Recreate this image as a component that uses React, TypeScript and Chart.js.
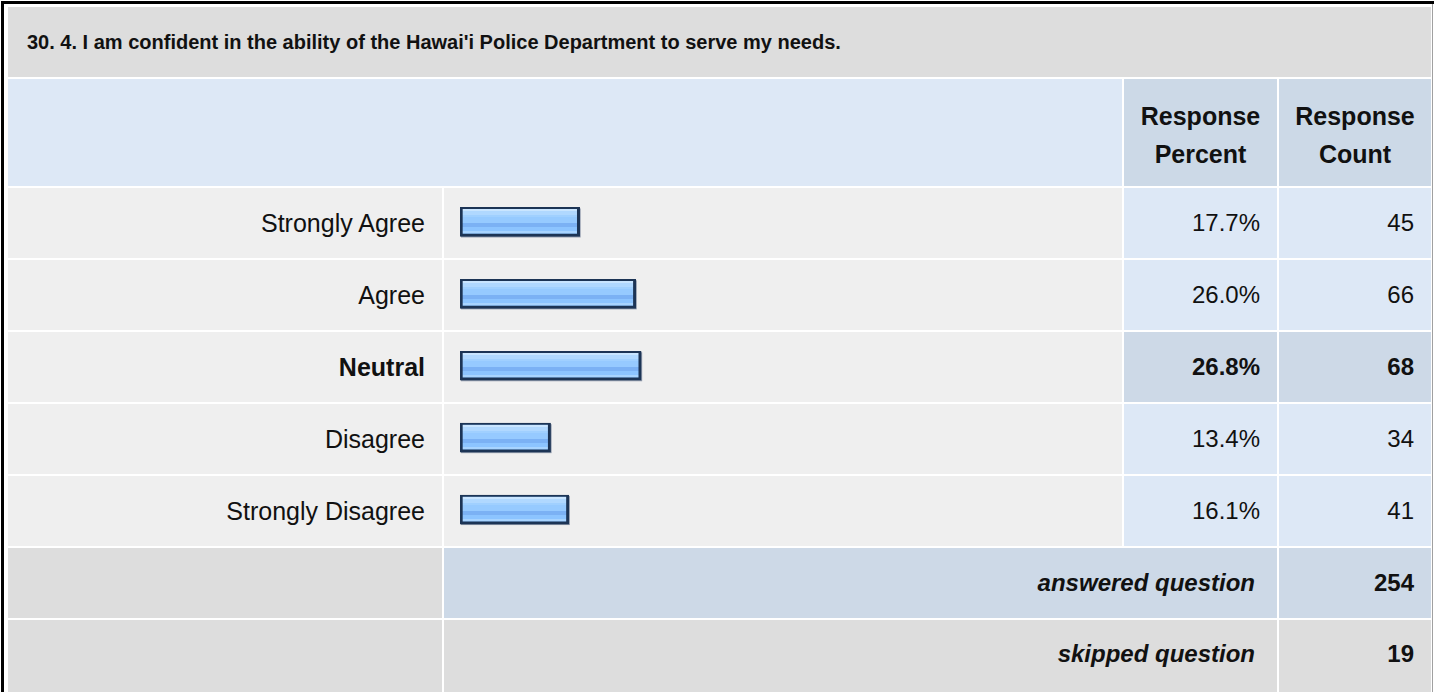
import React, { useEffect, useRef } from "react";
import { Chart, registerables } from "chart.js";

Chart.register(...registerables);

const title = "30. 4. I am confident in the ability of the Hawai'i Police Department to serve my needs.";
const categories = ["Strongly Agree", "Agree", "Neutral", "Disagree", "Strongly Disagree"];
const percents = [17.7, 26.0, 26.8, 13.4, 16.1];
const counts = [45, 66, 68, 34, 41];
const highlighted = [false, false, true, false, false];
const headerLabels = ["Response Percent", "Response Count"];
const answeredLabel = "answered question";
const skippedLabel = "skipped question";
const answeredCount = 254;
const skippedCount = 19;

const FONT = '"Liberation Sans", Arial, Helvetica, sans-serif';
const TEXT = "#111";

// geometry
const COL = { labelX: 8, barX: 444, pctX: 1124, cntX: 1279, right: 1431 };
const ROW0 = 188;
const STEP = 72;
const RH = 70;

function Cell(props: {
  x: number; y: number; w: number; h: number; bg: string;
  children?: React.ReactNode; style?: React.CSSProperties;
}) {
  const { x, y, w, h, bg, children, style } = props;
  return (
    <div
      style={{
        position: "absolute", left: x, top: y, width: w, height: h, background: bg,
        display: "flex", alignItems: "center", boxSizing: "border-box",
        fontFamily: FONT, fontSize: 24, color: TEXT, whiteSpace: "nowrap",
        ...style,
      }}
    >
      {children}
    </div>
  );
}

const stripes: [number, number, string][] = [
  [0, 72, "#96caff"],
  [23, 25, "#c9e5ff"],
  [25, 29, "#b0d8ff"],
  [29, 31, "#a0d0ff"],
  [31, 37, "#96caff"],
  [37, 41, "#7bb1f4"],
  [41, 45, "#8cc4ff"],
  [45, 47, "#a8d4ff"],
];

export default function App() {
  const canvasRef = useRef<HTMLCanvasElement | null>(null);

  useEffect(() => {
    const canvas = canvasRef.current!;
    const pc = document.createElement("canvas");
    pc.width = 1;
    pc.height = 72;
    const g = pc.getContext("2d")!;
    stripes.forEach(([a, b, c]) => {
      g.fillStyle = c;
      g.fillRect(0, a, 1, b - a);
    });
    const pattern = canvas.getContext("2d")!.createPattern(pc, "repeat")!;

    const shadowPlugin = {
      id: "barShadow",
      beforeDatasetsDraw(chart: any) {
        const c = chart.ctx;
        const meta = chart.getDatasetMeta(0);
        c.save();
        c.fillStyle = "#8e98aa";
        meta.data.forEach((el: any) => {
          const p = el.getProps(["x", "y", "base", "height"], true);
          const l = Math.min(p.base, p.x);
          const r = Math.max(p.base, p.x);
          c.fillRect(l + 1, p.y - p.height / 2 + 1, r - l, p.height);
        });
        c.restore();
      },
    };

    const chart = new Chart(canvas, {
      type: "bar",
      data: {
        labels: categories,
        datasets: [
          {
            data: percents,
            backgroundColor: pattern as any,
            borderColor: "#1c3455",
            borderWidth: { top: 2, left: 3, right: 3, bottom: 3 } as any,
            borderSkipped: false,
            barThickness: 29,
          },
        ],
      },
      options: {
        indexAxis: "y",
        animation: false,
        responsive: false,
        events: [],
        layout: { padding: { left: 16, right: 0, top: -0.5, bottom: 0.5 } },
        scales: {
          x: { display: false, min: 0, max: 100 },
          y: { display: false },
        },
        plugins: { legend: { display: false }, tooltip: { enabled: false } },
      },
      plugins: [shadowPlugin],
    });
    return () => chart.destroy();
  }, []);

  const rows = categories.map((cat, i) => {
    const y = ROW0 + i * STEP;
    const hl = highlighted[i];
    const bold = hl ? 700 : 400;
    const numBg = hl ? "#cdd9e7" : "#dde8f6";
    return (
      <React.Fragment key={cat}>
        <Cell x={COL.labelX} y={y} w={COL.barX - 2 - COL.labelX} h={RH} bg="#efefef"
          style={{ justifyContent: "flex-end", paddingRight: 17, fontWeight: bold, fontSize: 25 }}>
          {cat}
        </Cell>
        <Cell x={COL.barX} y={y} w={COL.pctX - 2 - COL.barX} h={RH} bg="#efefef" />
        <Cell x={COL.pctX} y={y} w={COL.cntX - 2 - COL.pctX} h={RH} bg={numBg}
          style={{ justifyContent: "flex-end", paddingRight: 17, fontWeight: bold }}>
          {percents[i].toFixed(1) + "%"}
        </Cell>
        <Cell x={COL.cntX} y={y} w={COL.right - COL.cntX} h={RH} bg={numBg}
          style={{ justifyContent: "flex-end", paddingRight: 17, fontWeight: bold }}>
          {String(counts[i])}
        </Cell>
      </React.Fragment>
    );
  });

  const yAns = ROW0 + categories.length * STEP;
  const ySkip = yAns + STEP;

  return (
    <div style={{ position: "absolute", left: 0, top: 0, width: 1434, height: 692, background: "#fff", overflow: "hidden" }}>
      <div style={{ position: "absolute", left: 1, top: 1, width: 1433, height: 3, background: "#000" }} />
      <div style={{ position: "absolute", left: 1, top: 1, width: 3, height: 691, background: "#000" }} />
      <div style={{ position: "absolute", left: 1432, top: 4, width: 1, height: 688, background: "#a0a0a0" }} />

      <Cell x={8} y={7} w={COL.right - 8} h={70} bg="#dddddd"
        style={{ paddingLeft: 19, fontWeight: 700, fontSize: 20 }}>
        {title}
      </Cell>

      <Cell x={8} y={79} w={COL.pctX - 2 - 8} h={107} bg="#dde8f6" />
      <Cell x={COL.pctX} y={79} w={COL.cntX - 2 - COL.pctX} h={107} bg="#ccd9e7"
        style={{ justifyContent: "center", textAlign: "center", fontWeight: 700, fontSize: 25, lineHeight: "38px", whiteSpace: "normal", paddingTop: 4 }}>
        <span>{headerLabels[0].split(" ")[0]}<br />{headerLabels[0].split(" ")[1]}</span>
      </Cell>
      <Cell x={COL.cntX} y={79} w={COL.right - COL.cntX} h={107} bg="#ccd9e7"
        style={{ justifyContent: "center", textAlign: "center", fontWeight: 700, fontSize: 25, lineHeight: "38px", whiteSpace: "normal", paddingTop: 4 }}>
        <span>{headerLabels[1].split(" ")[0]}<br />{headerLabels[1].split(" ")[1]}</span>
      </Cell>

      {rows}

      <Cell x={COL.labelX} y={yAns} w={COL.barX - 2 - COL.labelX} h={RH} bg="#dddddd" />
      <Cell x={COL.barX} y={yAns} w={COL.cntX - 2 - COL.barX} h={RH} bg="#cdd9e7"
        style={{ justifyContent: "flex-end", paddingRight: 22, fontWeight: 700, fontStyle: "italic" }}>
        {answeredLabel}
      </Cell>
      <Cell x={COL.cntX} y={yAns} w={COL.right - COL.cntX} h={RH} bg="#cdd9e7"
        style={{ justifyContent: "flex-end", paddingRight: 17, fontWeight: 700 }}>
        {String(answeredCount)}
      </Cell>

      <Cell x={COL.labelX} y={ySkip} w={COL.barX - 2 - COL.labelX} h={RH + 4} bg="#dddddd" />
      <Cell x={COL.barX} y={ySkip} w={COL.cntX - 2 - COL.barX} h={RH + 4} bg="#dddddd"
        style={{ justifyContent: "flex-end", paddingRight: 22, fontWeight: 700, fontStyle: "italic", alignItems: "flex-start", paddingTop: 20 }}>
        {skippedLabel}
      </Cell>
      <Cell x={COL.cntX} y={ySkip} w={COL.right - COL.cntX} h={RH + 4} bg="#dddddd"
        style={{ justifyContent: "flex-end", paddingRight: 17, fontWeight: 700, alignItems: "flex-start", paddingTop: 20 }}>
        {String(skippedCount)}
      </Cell>

      <canvas ref={canvasRef} width={692} height={360}
        style={{ position: "absolute", left: COL.barX, top: ROW0 - 2, width: 692, height: 360 }} />
    </div>
  );
}
